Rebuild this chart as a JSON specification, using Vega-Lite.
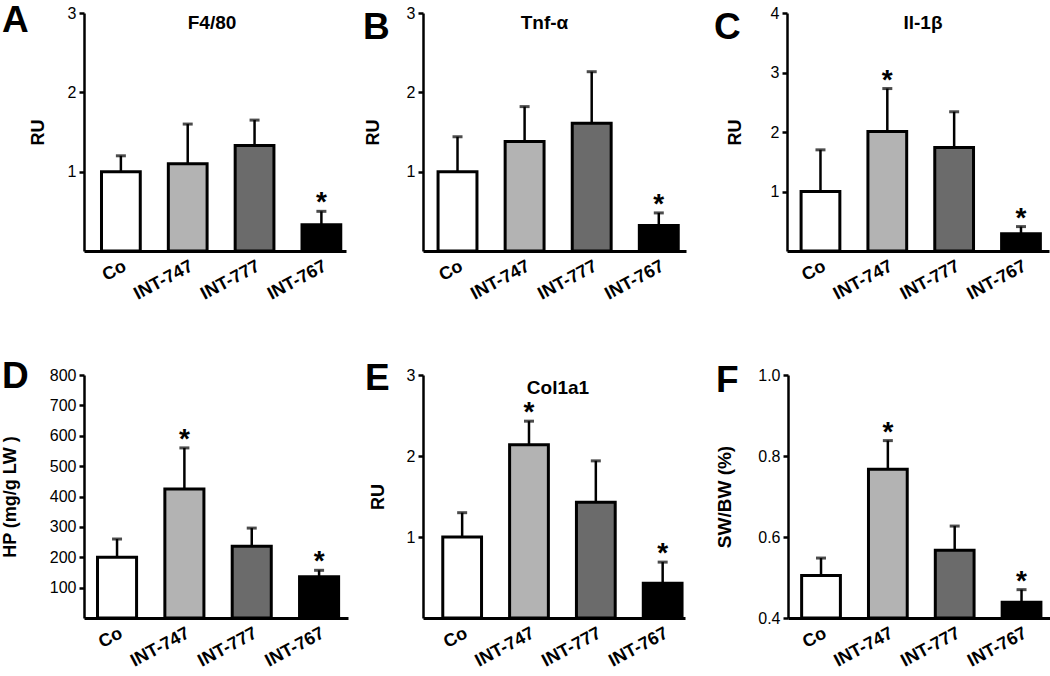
{
  "$schema": "https://vega.github.io/schema/vega-lite/v6.json",
  "padding": {"left": 1, "top": 2, "right": 0, "bottom": 0},
  "config": {
    "font": "Liberation Sans",
    "view": {"stroke": null},
    "axis": {"domainColor": "black", "tickColor": "black", "labelColor": "black", "titleColor": "black", "grid": false},
    "axisY": {"domainWidth": 2.5, "tickWidth": 2.5, "tickSize": 5, "labelPadding": 3, "labelFontSize": 16, "titleFontSize": 18, "titleFontWeight": "bold", "labelOverlap": false},
    "axisX": {"domainWidth": 3, "ticks": false, "labelAngle": -28, "labelAlign": "right", "labelBaseline": "top", "labelFontSize": 18, "labelFontWeight": "bold", "labelPadding": 6, "labelOverlap": false},
    "title": {"color": "black"}
  },
  "datasets": {
    "bars": [
      {"panel": "A", "group": "Co", "value": 1.0, "err": 1.2, "sig": ""},
      {"panel": "A", "group": "INT-747", "value": 1.1, "err": 1.6, "sig": ""},
      {"panel": "A", "group": "INT-777", "value": 1.33, "err": 1.65, "sig": ""},
      {"panel": "A", "group": "INT-767", "value": 0.33, "err": 0.5, "sig": "*"},
      {"panel": "B", "group": "Co", "value": 1.0, "err": 1.44, "sig": ""},
      {"panel": "B", "group": "INT-747", "value": 1.38, "err": 1.82, "sig": ""},
      {"panel": "B", "group": "INT-777", "value": 1.61, "err": 2.26, "sig": ""},
      {"panel": "B", "group": "INT-767", "value": 0.32, "err": 0.48, "sig": "*"},
      {"panel": "C", "group": "Co", "value": 1.0, "err": 1.7, "sig": ""},
      {"panel": "C", "group": "INT-747", "value": 2.01, "err": 2.73, "sig": "*"},
      {"panel": "C", "group": "INT-777", "value": 1.74, "err": 2.34, "sig": ""},
      {"panel": "C", "group": "INT-767", "value": 0.29, "err": 0.41, "sig": "*"},
      {"panel": "D", "group": "Co", "value": 200, "err": 260, "sig": ""},
      {"panel": "D", "group": "INT-747", "value": 425, "err": 560, "sig": "*"},
      {"panel": "D", "group": "INT-777", "value": 236, "err": 296, "sig": ""},
      {"panel": "D", "group": "INT-767", "value": 136, "err": 157, "sig": "*"},
      {"panel": "E", "group": "Co", "value": 1.0, "err": 1.3, "sig": ""},
      {"panel": "E", "group": "INT-747", "value": 2.14, "err": 2.43, "sig": "*"},
      {"panel": "E", "group": "INT-777", "value": 1.43, "err": 1.94, "sig": ""},
      {"panel": "E", "group": "INT-767", "value": 0.43, "err": 0.69, "sig": "*"},
      {"panel": "F", "group": "Co", "value": 0.505, "err": 0.548, "sig": ""},
      {"panel": "F", "group": "INT-747", "value": 0.767, "err": 0.838, "sig": "*"},
      {"panel": "F", "group": "INT-777", "value": 0.567, "err": 0.627, "sig": ""},
      {"panel": "F", "group": "INT-767", "value": 0.439, "err": 0.47, "sig": "*"}
    ]
  },
  "spacing": 55,
  "vconcat": [
    {
      "spacing": 17,
      "hconcat": [
        {
          "width": 262, "height": 238,
          "title": {"text": "A", "anchor": "start", "frame": "group", "dx": -82, "dy": 35.3, "offset": 0, "fontSize": 37, "fontWeight": "bold"},
          "layer": [
            {
              "data": {"name": "bars"},
              "transform": [{"filter": "datum.panel === 'A'"}],
              "encoding": {"x": {"field": "group", "type": "nominal", "sort": null, "title": null, "scale": {"paddingInner": 0.42, "paddingOuter": 0.17, "align": 0.77}}},
              "layer": [
                {"mark": {"type": "bar", "stroke": "black", "strokeWidth": 3},
                 "encoding": {"y": {"field": "value", "type": "quantitative", "title": "RU", "scale": {"domain": [0, 3]}, "axis": {"values": [1, 2, 3], "tickCount": 10, "format": "d", "titlePadding": 19.5, "labelOverlap": false}},
                              "fill": {"field": "group", "type": "nominal", "scale": {"domain": ["Co", "INT-747", "INT-777", "INT-767"], "range": ["#ffffff", "#b3b3b3", "#6b6b6b", "#000000"]}, "legend": null}}},
                {"mark": {"type": "rule", "strokeWidth": 2.5, "color": "black"}, "encoding": {"y": {"field": "value", "type": "quantitative", "title": "RU"}, "y2": {"field": "err"}}},
                {"mark": {"type": "tick", "thickness": 3, "size": 10, "color": "black"}, "encoding": {"y": {"field": "err", "type": "quantitative", "title": "RU"}}},
                {"mark": {"type": "text", "fontSize": 28, "fontWeight": "bold", "baseline": "alphabetic", "dy": 0, "color": "black"}, "encoding": {"y": {"field": "err", "type": "quantitative", "title": "RU"}, "text": {"field": "sig"}}}
              ]
            },
            {"data": {"values": [{"label": "F4/80"}]}, "mark": {"type": "text", "fontSize": 19, "fontWeight": "bold", "baseline": "top", "dy": 1, "dx": -3, "color": "black"}, "encoding": {"y": {"datum": 3, "type": "quantitative", "title": "RU"}, "text": {"field": "label"}}}
          ]
        },
        {
          "spacing": 28,
          "hconcat": [
            {
              "width": 263, "height": 238,
              "title": {"text": "B", "anchor": "start", "frame": "group", "dx": -60, "dy": 42.3, "offset": 0, "fontSize": 37, "fontWeight": "bold"},
              "layer": [
                {
                  "data": {"name": "bars"},
                  "transform": [{"filter": "datum.panel === 'B'"}],
                  "encoding": {"x": {"field": "group", "type": "nominal", "sort": null, "title": null, "scale": {"paddingInner": 0.42, "paddingOuter": 0.17, "align": 0.66}}},
                  "layer": [
                    {"mark": {"type": "bar", "stroke": "black", "strokeWidth": 3},
                     "encoding": {"y": {"field": "value", "type": "quantitative", "title": "RU", "scale": {"domain": [0, 3]}, "axis": {"values": [1, 2, 3], "tickCount": 10, "format": "d", "titlePadding": 23.5, "labelOverlap": false}},
                                  "fill": {"field": "group", "type": "nominal", "scale": {"domain": ["Co", "INT-747", "INT-777", "INT-767"], "range": ["#ffffff", "#b3b3b3", "#6b6b6b", "#000000"]}, "legend": null}}},
                    {"mark": {"type": "rule", "strokeWidth": 2.5, "color": "black"}, "encoding": {"y": {"field": "value", "type": "quantitative", "title": "RU"}, "y2": {"field": "err"}}},
                    {"mark": {"type": "tick", "thickness": 3, "size": 10, "color": "black"}, "encoding": {"y": {"field": "err", "type": "quantitative", "title": "RU"}}},
                    {"mark": {"type": "text", "fontSize": 28, "fontWeight": "bold", "baseline": "alphabetic", "dy": 0, "color": "black"}, "encoding": {"y": {"field": "err", "type": "quantitative", "title": "RU"}, "text": {"field": "sig"}}}
                  ]
                },
                {"data": {"values": [{"label": "Tnf-α"}]}, "mark": {"type": "text", "fontSize": 19, "fontWeight": "bold", "baseline": "top", "dy": 1, "dx": -10, "color": "black"}, "encoding": {"y": {"datum": 3, "type": "quantitative", "title": "RU"}, "text": {"field": "label"}}}
              ]
            },
            {
              "width": 262, "height": 238,
              "title": {"text": "C", "anchor": "start", "frame": "group", "dx": -73, "dy": 42.3, "offset": 0, "fontSize": 37, "fontWeight": "bold"},
              "layer": [
                {
                  "data": {"name": "bars"},
                  "transform": [{"filter": "datum.panel === 'C'"}],
                  "encoding": {"x": {"field": "group", "type": "nominal", "sort": null, "title": null, "scale": {"paddingInner": 0.42, "paddingOuter": 0.17, "align": 0.62}}},
                  "layer": [
                    {"mark": {"type": "bar", "stroke": "black", "strokeWidth": 3},
                     "encoding": {"y": {"field": "value", "type": "quantitative", "title": "RU", "scale": {"domain": [0, 4]}, "axis": {"values": [1, 2, 3, 4], "tickCount": 10, "format": "d", "titlePadding": 25.5, "labelOverlap": false}},
                                  "fill": {"field": "group", "type": "nominal", "scale": {"domain": ["Co", "INT-747", "INT-777", "INT-767"], "range": ["#ffffff", "#b3b3b3", "#6b6b6b", "#000000"]}, "legend": null}}},
                    {"mark": {"type": "rule", "strokeWidth": 2.5, "color": "black"}, "encoding": {"y": {"field": "value", "type": "quantitative", "title": "RU"}, "y2": {"field": "err"}}},
                    {"mark": {"type": "tick", "thickness": 3, "size": 10, "color": "black"}, "encoding": {"y": {"field": "err", "type": "quantitative", "title": "RU"}}},
                    {"mark": {"type": "text", "fontSize": 28, "fontWeight": "bold", "baseline": "alphabetic", "dy": 0, "color": "black"}, "encoding": {"y": {"field": "err", "type": "quantitative", "title": "RU"}, "text": {"field": "sig"}}}
                  ]
                },
                {"data": {"values": [{"label": "Il-1β"}]}, "mark": {"type": "text", "fontSize": 19, "fontWeight": "bold", "baseline": "top", "dy": 1, "dx": 5, "color": "black"}, "encoding": {"y": {"datum": 4, "type": "quantitative", "title": "RU"}, "text": {"field": "label"}}}
              ]
            }
          ]
        }
      ]
    },
    {
      "spacing": 17,
      "hconcat": [
        {
          "width": 264, "height": 243,
          "title": {"text": "D", "anchor": "start", "frame": "group", "dx": -82, "dy": 29.3, "offset": 0, "fontSize": 37, "fontWeight": "bold"},
          "data": {"name": "bars"},
          "transform": [{"filter": "datum.panel === 'D'"}],
          "encoding": {"x": {"field": "group", "type": "nominal", "sort": null, "title": null, "scale": {"paddingInner": 0.42, "paddingOuter": 0.17, "align": 0.59}}},
          "layer": [
            {"mark": {"type": "bar", "stroke": "black", "strokeWidth": 3},
             "encoding": {"y": {"field": "value", "type": "quantitative", "title": "HP (mg/g LW )", "scale": {"domain": [0, 800]}, "axis": {"values": [100, 200, 300, 400, 500, 600, 700, 800], "tickCount": 10, "format": "d", "titlePadding": 30, "labelOverlap": false}},
                          "fill": {"field": "group", "type": "nominal", "scale": {"domain": ["Co", "INT-747", "INT-777", "INT-767"], "range": ["#ffffff", "#b3b3b3", "#6b6b6b", "#000000"]}, "legend": null}}},
            {"mark": {"type": "rule", "strokeWidth": 2.5, "color": "black"}, "encoding": {"y": {"field": "value", "type": "quantitative", "title": "HP (mg/g LW )"}, "y2": {"field": "err"}}},
            {"mark": {"type": "tick", "thickness": 3, "size": 10, "color": "black"}, "encoding": {"y": {"field": "err", "type": "quantitative", "title": "HP (mg/g LW )"}}},
            {"mark": {"type": "text", "fontSize": 28, "fontWeight": "bold", "baseline": "alphabetic", "dy": 0, "color": "black"}, "encoding": {"y": {"field": "err", "type": "quantitative", "title": "HP (mg/g LW )"}, "text": {"field": "sig"}}}
          ]
        },
        {
          "spacing": 30,
          "hconcat": [
            {
              "width": 262, "height": 243,
              "title": {"text": "E", "anchor": "start", "frame": "group", "dx": -58, "dy": 31.3, "offset": 0, "fontSize": 37, "fontWeight": "bold"},
              "layer": [
                {
                  "data": {"name": "bars"},
                  "transform": [{"filter": "datum.panel === 'E'"}],
                  "encoding": {"x": {"field": "group", "type": "nominal", "sort": null, "title": null, "scale": {"paddingInner": 0.42, "paddingOuter": 0.17, "align": 0.87}}},
                  "layer": [
                    {"mark": {"type": "bar", "stroke": "black", "strokeWidth": 3},
                     "encoding": {"y": {"field": "value", "type": "quantitative", "title": "RU", "scale": {"domain": [0, 3]}, "axis": {"values": [1, 2, 3], "tickCount": 10, "format": "d", "titlePadding": 18.5, "labelOverlap": false}},
                                  "fill": {"field": "group", "type": "nominal", "scale": {"domain": ["Co", "INT-747", "INT-777", "INT-767"], "range": ["#ffffff", "#b3b3b3", "#6b6b6b", "#000000"]}, "legend": null}}},
                    {"mark": {"type": "rule", "strokeWidth": 2.5, "color": "black"}, "encoding": {"y": {"field": "value", "type": "quantitative", "title": "RU"}, "y2": {"field": "err"}}},
                    {"mark": {"type": "tick", "thickness": 3, "size": 10, "color": "black"}, "encoding": {"y": {"field": "err", "type": "quantitative", "title": "RU"}}},
                    {"mark": {"type": "text", "fontSize": 28, "fontWeight": "bold", "baseline": "alphabetic", "dy": 0, "color": "black"}, "encoding": {"y": {"field": "err", "type": "quantitative", "title": "RU"}, "text": {"field": "sig"}}}
                  ]
                },
                {"data": {"values": [{"label": "Col1a1"}]}, "mark": {"type": "text", "fontSize": 19, "fontWeight": "bold", "baseline": "top", "dy": 4, "dx": 4, "color": "black"}, "encoding": {"y": {"datum": 3, "type": "quantitative", "title": "RU"}, "text": {"field": "label"}}}
              ]
            },
            {
              "width": 262, "height": 243,
              "title": {"text": "F", "anchor": "start", "frame": "group", "dx": -72, "dy": 33.3, "offset": 0, "fontSize": 37, "fontWeight": "bold"},
              "data": {"name": "bars"},
              "transform": [{"filter": "datum.panel === 'F'"}],
              "encoding": {"x": {"field": "group", "type": "nominal", "sort": null, "title": null, "scale": {"paddingInner": 0.42, "paddingOuter": 0.17, "align": 0.6}}},
              "layer": [
                {"mark": {"type": "bar", "stroke": "black", "strokeWidth": 3},
                 "encoding": {"y": {"field": "value", "type": "quantitative", "title": "SW/BW (%)", "scale": {"domain": [0.4, 1.0], "zero": false}, "axis": {"values": [0.4, 0.6, 0.8, 1.0], "tickCount": 10, "format": ".1f", "titlePadding": 23, "titleFontSize": 19, "labelOverlap": false}},
                              "y2": {"datum": 0.4},
                              "fill": {"field": "group", "type": "nominal", "scale": {"domain": ["Co", "INT-747", "INT-777", "INT-767"], "range": ["#ffffff", "#b3b3b3", "#6b6b6b", "#000000"]}, "legend": null}}},
                {"mark": {"type": "rule", "strokeWidth": 2.5, "color": "black"}, "encoding": {"y": {"field": "value", "type": "quantitative", "title": "SW/BW (%)"}, "y2": {"field": "err"}}},
                {"mark": {"type": "tick", "thickness": 3, "size": 10, "color": "black"}, "encoding": {"y": {"field": "err", "type": "quantitative", "title": "SW/BW (%)"}}},
                {"mark": {"type": "text", "fontSize": 28, "fontWeight": "bold", "baseline": "alphabetic", "dy": 0, "color": "black"}, "encoding": {"y": {"field": "err", "type": "quantitative", "title": "SW/BW (%)"}, "text": {"field": "sig"}}}
              ]
            }
          ]
        }
      ]
    }
  ]
}
